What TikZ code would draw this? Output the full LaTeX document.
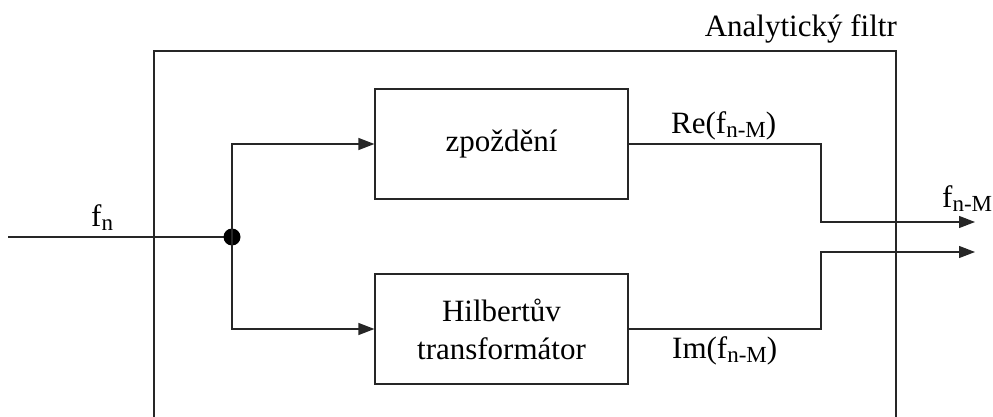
\documentclass[tikz,border=0pt]{standalone}
\usepackage{fontspec}
\setmainfont{Liberation Serif}
\usetikzlibrary{arrows.meta}
\tikzset{
  wire/.style={line width=1.2pt, draw=black!85},
  sig/.style={wire, -{Triangle[length=16pt,width=12pt]}},
  block/.style={wire, draw, rectangle, minimum width=253pt, minimum height=110pt,
                align=center, font=\fontsize{31}{38}\selectfont},
  lbl/.style={font=\fontsize{31}{35}\selectfont, inner sep=0pt},
}
% signal name with a large, slightly lowered index
\newcommand{\sig}[1]{f\raisebox{-4pt}{\fontsize{23}{23}\selectfont #1}}
\begin{document}
\begin{tikzpicture}[x=1pt,y=-1pt]
  \useasboundingbox (0,0) rectangle (993,417);
  % outer frame, open at the bottom
  \draw[wire] (154,417) -- (154,51) -- (896,51) -- (896,417);
  \node[lbl, anchor=base east] (title) at (897,37) {Analytický filtr};

  % blocks
  \node[block] (delay) at (501.5,144) {zpoždění};
  \node[block] (hilb) at (501.5,329) {Hilbertův\\transformátor};

  % input and branch point
  \coordinate (in) at (8,237);
  \coordinate (j) at (232,237);
  \draw[wire] (in) -- (j);
  \fill (j) circle (8.5pt);
  \node[lbl, anchor=base west] (fn) at (91,226) {\sig{n}};
  \draw[sig] (j) |- (delay.west);
  \draw[sig] (j) |- (hilb.west);

  % outputs
  \coordinate (reout) at (975,222);
  \coordinate (imout) at (975,252);
  \coordinate (rebend) at (821,222);
  \coordinate (imbend) at (821,252);
  \draw[sig] (delay.east) -| (rebend) -- (reout);
  \draw[sig] (hilb.east) -| (imbend) -- (imout);
  \node[lbl, anchor=base west] (re) at (671,134) {Re(\sig{n-M})};
  \node[lbl, anchor=base west] (im) at (672,358) {Im(\sig{n-M})};
  \node[lbl, anchor=base west] (fout) at (942,207) {\sig{n-M}};
\end{tikzpicture}
\end{document}
